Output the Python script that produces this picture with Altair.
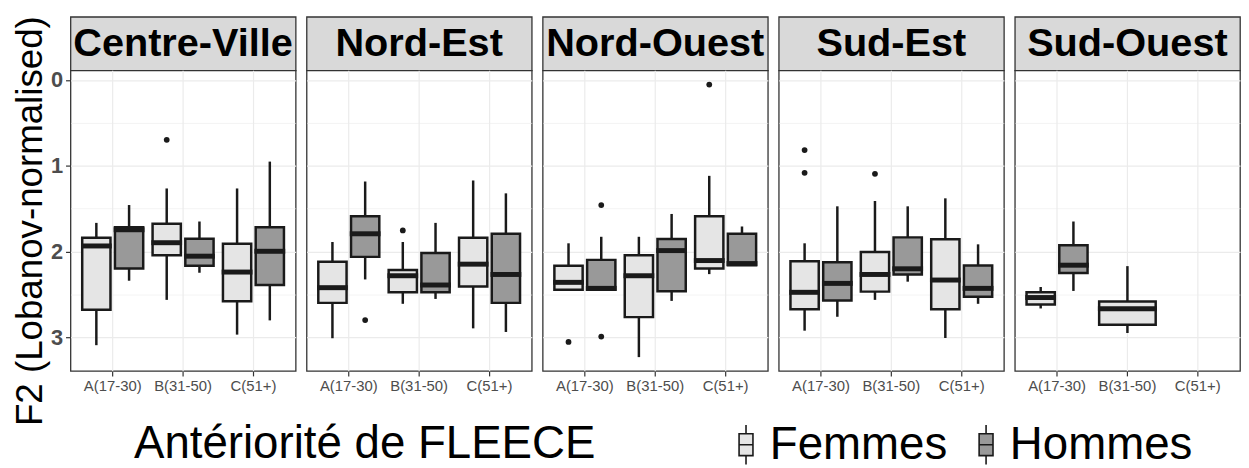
import altair as alt
import pandas as pd
import numpy as np

regions = ["Centre-Ville", "Nord-Est", "Nord-Ouest", "Sud-Est", "Sud-Ouest"]
ages = ["A(17-30)", "B(31-50)", "C(51+)"]
sexes = ["Femmes", "Hommes"]

# one entry per box (whisker ends, quartiles, median)
box_region = (["Centre-Ville"] * 6 + ["Nord-Est"] * 6 + ["Nord-Ouest"] * 6
              + ["Sud-Est"] * 6 + ["Sud-Ouest"] * 3)
box_age = (["A(17-30)", "A(17-30)", "B(31-50)", "B(31-50)", "C(51+)", "C(51+)"] * 4
           + ["A(17-30)", "A(17-30)", "B(31-50)"])
box_sex = ["Femmes", "Hommes"] * 13 + ["Femmes"]
whisk_lo = [1.665, 1.457, 1.264, 1.649, 1.264, 0.951,
            1.888, 1.183, 1.888, 1.665, 1.171, 1.321,
            1.903, 1.827, 1.827, 1.561, 1.117, 1.707,
            1.903, 1.472, 1.410, 1.472, 1.379, 1.915,
            2.412, 1.649, 2.169]
q_low = [1.838, 1.715, 1.676, 1.850, 1.908, 1.715,
         2.119, 1.587, 2.215, 2.015, 1.838, 1.792,
         2.165, 2.096, 2.042, 1.853, 1.587, 1.792,
         2.111, 2.123, 2.003, 1.834, 1.857, 2.162,
         2.474, 1.926, 2.581]
median = [1.934, 1.745, 1.896, 2.053, 2.238, 1.996,
          2.420, 1.792, 2.281, 2.389, 2.146, 2.266,
          2.358, 2.428, 2.281, 1.988, 2.104, 2.139,
          2.474, 2.370, 2.266, 2.200, 2.331, 2.428,
          2.535, 2.158, 2.666]
q_high = [2.678, 2.197, 2.042, 2.165, 2.578, 2.389,
          2.597, 2.061, 2.474, 2.474, 2.405, 2.597,
          2.443, 2.443, 2.763, 2.462, 2.197, 2.158,
          2.671, 2.570, 2.466, 2.266, 2.671, 2.527,
          2.616, 2.250, 2.851]
whisk_hi = [3.090, 2.339, 2.562, 2.246, 2.967, 2.801,
            3.009, 2.324, 2.608, 2.551, 2.894, 2.936,
            2.443, 2.443, 3.229, 2.574, 2.262, 2.158,
            2.921, 2.759, 2.562, 2.350, 3.006, 2.608,
            2.662, 2.458, 2.948]

# outliers
out_region = ["Centre-Ville", "Nord-Est", "Nord-Est", "Nord-Ouest", "Nord-Ouest",
              "Nord-Ouest", "Nord-Ouest", "Sud-Est", "Sud-Est", "Sud-Est"]
out_age = ["B(31-50)", "A(17-30)", "B(31-50)", "A(17-30)", "A(17-30)",
           "A(17-30)", "C(51+)", "A(17-30)", "A(17-30)", "B(31-50)"]
out_sex = ["Femmes", "Hommes", "Femmes", "Femmes", "Hommes",
           "Hommes", "Femmes", "Femmes", "Femmes", "Femmes"]
out_value = [0.697, 2.798, 1.753, 3.052, 1.457, 2.990, 0.053, 0.817, 1.082, 1.094]

# ---- styling ----
FONT = "Liberation Sans"
LINE = "#1A1A1A"
BORDER = "#333333"
GRID = "#EBEBEB"
STRIP_FILL = "#D9D9D9"
FILLS = ["#E5E5E5", "#999999"]
W, H, SH = 227, 303, 54
BOX_W = 28.5
SUB = 16.5  # half distance between dodged boxes

boxes = pd.DataFrame({
    "region": box_region, "age": box_age, "sex": box_sex,
    "lo": whisk_lo, "q1": q_low, "med": median, "q3": q_high, "hi": whisk_hi,
})
cnt = boxes.groupby(["region", "age"])["sex"].transform("count")
boxes["slot"] = np.where(cnt == 1, "Mid", boxes["sex"])
boxes["w"] = np.where(cnt == 1, 2 * BOX_W, BOX_W)
boxes["mw"] = boxes["w"] + 2.5

outs = pd.DataFrame({"region": out_region, "age": out_age, "sex": out_sex, "val": out_value})

step = W / 3.2
po = (step / SUB - 3) / 2

xscale = alt.Scale(domain=ages, paddingInner=0, paddingOuter=0.1)
oscale = alt.Scale(domain=["Femmes", "Mid", "Hommes"], paddingInner=0, paddingOuter=po)
yscale = alt.Scale(domain=[-0.112, 3.39], reverse=True, nice=False, zero=False)

xaxis = alt.Axis(labelFontSize=15, labelColor="#4D4D4D", tickColor=BORDER, tickSize=5,
                 tickWidth=1.2, domain=False, grid=True, gridColor=GRID, gridWidth=1.2,
                 bandPosition=0.5, labelAngle=0, labelPadding=3, title=None)

yvals = [0, 0.5, 1, 1.5, 2, 2.5, 3]
gridw = {"condition": {"test": "datum.value % 1 === 0", "value": 1.2}, "value": 0.6}


def yaxis(first):
    if first:
        return alt.Axis(values=yvals, grid=True, gridColor=GRID, gridWidth=gridw, domain=False,
                        labelExpr="datum.value % 1 === 0 ? toString(datum.value) : ''",
                        labelFontSize=22, labelFontWeight="bold", labelColor="#4D4D4D",
                        labelPadding=3, tickColor=BORDER, tickSize=5, tickWidth=1.2,
                        tickOpacity={"condition": {"test": "datum.value % 1 === 0", "value": 1}, "value": 0},
                        title="F2 (Lobanov-normalised)", titleFontSize=37,
                        titleFontWeight="normal", titleColor="black", titlePadding=1)
    return alt.Axis(values=yvals, grid=True, gridColor=GRID, gridWidth=gridw, domain=False,
                    labels=False, ticks=False, title=None)


LEG_PATH = "M0,-2V-1.1M-0.7,-1.1H0.7V1.1H-0.7ZM-0.7,0H0.7M0,1.1V2"

legend = alt.Legend(title="Antériorité de FLEECE", orient="none", legendX=64, legendY=408,
                    direction="horizontal", titleOrient="left", titleFontSize=46,
                    titleFontWeight="normal", titleColor="black", titlePadding=128,
                    titleLimit=800, labelLimit=400,
                    labelFontSize=46, labelColor="black", labelOffset=1,
                    symbolType=LEG_PATH, symbolSize=400, symbolStrokeColor=LINE,
                    symbolStrokeWidth=1.6, symbolOpacity=1, columnPadding=16)


def panel(region, first):
    d = boxes[boxes.region == region]
    o = outs[outs.region == region]
    x = alt.X("age:N", scale=xscale, axis=xaxis)
    base = alt.Chart(d).encode(x=x, xOffset=alt.XOffset("slot:N", scale=oscale))
    whisk = base.mark_rule(color=LINE, strokeWidth=2.5).encode(
        y=alt.Y("lo:Q", scale=yscale, axis=yaxis(first)), y2="hi:Q")
    box = base.mark_bar(stroke=LINE, strokeWidth=2.5).encode(
        y="q1:Q", y2="q3:Q",
        fill=alt.Fill("sex:N", scale=alt.Scale(domain=sexes, range=FILLS), legend=legend),
        size=alt.Size("w:Q", scale=None, legend=None))
    med = base.mark_tick(thickness=5, color=LINE, orient="horizontal", opacity=1).encode(
        y="med:Q", size=alt.Size("mw:Q", scale=None, legend=None))
    pts = alt.Chart(o).mark_circle(color=LINE, size=34, opacity=1).encode(
        x=x, xOffset=alt.XOffset("sex:N", scale=oscale), y="val:Q")
    return alt.layer(whisk, box, med, pts).properties(
        width=W, height=H, view=alt.ViewBackground(fill="white", stroke=BORDER, strokeWidth=1.3))


def strip(region):
    return alt.Chart(pd.DataFrame({"region": [region]})).mark_text(
        fontSize=40, fontWeight="bold", color="black", baseline="middle", align="center").encode(
        text="region:N", x=alt.value(W / 2), y=alt.value(SH / 2 + 1)).properties(
        width=W, height=SH, view=alt.ViewBackground(fill=STRIP_FILL, stroke=BORDER, strokeWidth=1.3))


cols = [alt.vconcat(strip(r), panel(r, i == 0), spacing=0, bounds="flush")
        for i, r in enumerate(regions)]

chart = alt.hconcat(*cols, spacing=9).resolve_scale(
    fill="shared").configure(font=FONT, padding={"left": 3, "top": 5, "right": 0, "bottom": 0})

chart.save("out.html", embed_options={"renderer": "svg", "actions": False})
